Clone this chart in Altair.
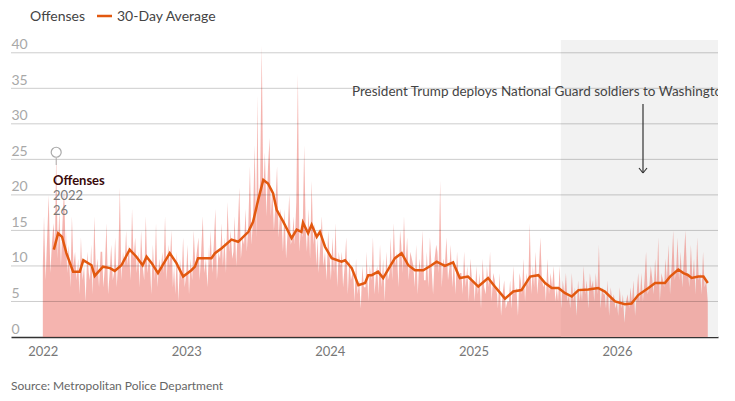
import altair as alt
import pandas as pd

# ---------------- data ----------------
months = [
    "2022-01", "2022-02", "2022-03", "2022-04", "2022-05", "2022-06",
    "2022-07", "2022-08", "2022-09", "2022-10", "2022-11", "2022-12",
    "2023-01", "2023-02", "2023-03", "2023-04", "2023-05", "2023-06",
    "2023-07", "2023-08", "2023-09", "2023-10", "2023-11", "2023-12",
    "2024-01", "2024-02", "2024-03", "2024-04", "2024-05", "2024-06",
    "2024-07", "2024-08", "2024-09", "2024-10", "2024-11", "2024-12",
    "2025-01", "2025-02", "2025-03", "2025-04", "2025-05", "2025-06",
    "2025-07", "2025-08", "2025-09", "2025-10", "2025-11", "2025-12",
    "2026-01", "2026-02", "2026-03", "2026-04", "2026-05", "2026-06",
    "2026-07", "2026-08",
]
sample_days = [1, 4, 8, 12, 16, 20, 24, 28]

# daily offenses (sampled), one list per month
offenses = [
    [10, 17, 8, 14, 20, 9, 13, 16],
    [13, 26, 11, 18, 10, 16, 21, 12],
    [15, 9, 13, 7, 17, 10, 12, 8],
    [11, 6, 14, 8, 10, 5, 12, 9],
    [8, 13, 6, 17, 9, 11, 7, 12],
    [12, 7, 10, 16, 6, 9, 13, 8],
    [9, 14, 7, 11, 21, 8, 12, 10],
    [15, 10, 13, 8, 18, 11, 14, 9],
    [12, 7, 15, 10, 8, 17, 9, 11],
    [10, 6, 13, 8, 16, 7, 11, 9],
    [12, 9, 17, 8, 13, 10, 15, 7],
    [10, 6, 12, 5, 11, 8, 14, 7],
    [9, 13, 6, 11, 8, 15, 10, 12],
    [14, 8, 12, 17, 9, 11, 7, 13],
    [10, 15, 9, 13, 18, 8, 12, 11],
    [16, 10, 14, 9, 19, 12, 15, 11],
    [12, 17, 10, 15, 21, 11, 14, 13],
    [18, 12, 16, 24, 13, 17, 27, 14],
    [34, 18, 22, 41, 20, 26, 17, 24],
    [28, 17, 21, 15, 19, 24, 14, 18],
    [16, 12, 18, 11, 15, 20, 13, 14],
    [17, 13, 19, 37, 12, 16, 14, 27],
    [15, 12, 18, 11, 22, 13, 16, 10],
    [14, 9, 13, 17, 10, 12, 8, 15],
    [11, 8, 14, 9, 16, 7, 12, 10],
    [12, 7, 10, 14, 6, 11, 8, 9],
    [9, 5, 11, 6, 8, 4, 10, 7],
    [7, 12, 5, 10, 8, 14, 6, 9],
    [10, 6, 13, 7, 11, 5, 12, 8],
    [9, 14, 8, 16, 10, 12, 7, 15],
    [13, 9, 17, 10, 14, 8, 12, 11],
    [10, 7, 13, 6, 11, 9, 15, 8],
    [8, 12, 7, 14, 10, 6, 11, 13],
    [12, 9, 22, 7, 11, 10, 14, 8],
    [10, 13, 7, 11, 6, 12, 8, 9],
    [9, 6, 12, 7, 10, 5, 11, 8],
    [8, 5, 10, 6, 9, 4, 11, 7],
    [6, 10, 7, 12, 5, 9, 8, 6],
    [7, 4, 9, 3, 6, 8, 4, 5],
    [5, 8, 4, 10, 6, 7, 3, 9],
    [8, 6, 11, 5, 9, 7, 16, 6],
    [10, 7, 12, 6, 9, 14, 8, 7],
    [8, 5, 11, 6, 9, 7, 10, 5],
    [7, 5, 10, 4, 8, 6, 9, 5],
    [6, 4, 9, 5, 7, 3, 8, 5],
    [7, 5, 10, 6, 8, 4, 9, 7],
    [8, 5, 9, 6, 13, 4, 7, 6],
    [6, 4, 8, 3, 7, 5, 6, 4],
    [5, 3, 7, 4, 6, 2, 5, 6],
    [4, 7, 5, 8, 3, 6, 9, 5],
    [6, 9, 5, 8, 12, 6, 7, 10],
    [8, 6, 11, 7, 14, 5, 9, 8],
    [7, 11, 8, 13, 6, 10, 15, 8],
    [10, 14, 8, 12, 7, 11, 15, 9],
    [9, 7, 13, 8, 11, 6, 14, 8],
    [9, 6, 12, 7, 8, 5],
]

avg_dates = [
    "2022-01-29", "2022-02-09", "2022-02-19", "2022-03-02", "2022-03-19",
    "2022-04-05", "2022-04-14", "2022-05-05", "2022-05-13", "2022-06-03",
    "2022-06-21", "2022-07-03", "2022-07-20", "2022-08-10", "2022-08-27",
    "2022-09-12", "2022-09-22", "2022-10-05", "2022-10-21", "2022-11-20",
    "2022-12-07", "2022-12-24", "2023-01-14", "2023-01-23", "2023-01-31",
    "2023-02-09", "2023-03-06", "2023-03-15", "2023-04-01", "2023-04-26",
    "2023-05-13", "2023-06-08", "2023-06-20", "2023-07-03", "2023-07-16",
    "2023-07-28", "2023-08-10", "2023-08-19", "2023-09-05", "2023-09-26",
    "2023-10-09", "2023-10-21", "2023-10-25", "2023-11-07", "2023-11-16",
    "2023-11-29", "2023-12-07", "2023-12-20", "2024-01-06", "2024-01-31",
    "2024-02-09", "2024-02-26", "2024-03-14", "2024-03-31", "2024-04-08",
    "2024-04-17", "2024-05-03", "2024-05-16", "2024-06-02", "2024-06-15",
    "2024-07-02", "2024-07-19", "2024-08-05", "2024-08-26", "2024-09-16",
    "2024-09-29", "2024-10-20", "2024-11-10", "2024-11-27", "2024-12-18",
    "2025-01-13", "2025-02-07", "2025-02-24", "2025-03-22", "2025-04-12",
    "2025-05-03", "2025-05-25", "2025-06-15", "2025-07-02", "2025-07-19",
    "2025-08-05", "2025-08-21", "2025-09-08", "2025-09-25", "2025-10-20",
    "2025-11-14", "2025-12-01", "2025-12-27", "2026-01-21", "2026-02-07",
    "2026-02-24", "2026-03-22", "2026-04-08", "2026-05-03", "2026-05-16",
    "2026-06-06", "2026-06-19", "2026-07-01", "2026-07-10", "2026-07-27",
    "2026-08-09", "2026-08-20",
]
avg_values = [
    12.3, 14.6, 14.1, 11.8, 9.2,
    9.2, 10.8, 10.1, 8.6, 9.9,
    9.7, 9.3, 10.1, 12.3, 11.3,
    10.1, 11.3, 10.4, 9.0, 11.8,
    10.4, 8.5, 9.4, 9.9, 11.1,
    11.1, 11.1, 11.8, 12.5, 13.7,
    13.4, 14.8, 16.2, 19.3, 22.1,
    21.6, 20.2, 17.9, 16.2, 13.9,
    15.1, 14.8, 16.1, 14.6, 15.8,
    14.1, 14.8, 12.7, 11.1, 10.6,
    10.8, 9.7, 7.3, 7.6, 8.7,
    8.7, 9.2, 8.3, 9.9, 11.1,
    11.8, 10.1, 9.4, 9.4, 10.1,
    10.6, 10.0, 10.5, 8.3, 8.5,
    7.1, 8.3, 7.1, 5.4, 6.4,
    6.6, 8.5, 8.7, 7.6, 6.9,
    6.9, 6.2, 5.7, 6.6, 6.7,
    6.9, 6.4, 5.0, 4.6, 4.7,
    5.9, 6.9, 7.6, 7.6, 8.5,
    9.5, 9.0, 8.7, 8.3, 8.5,
    8.5, 7.6,
]

grid_values = [5, 10, 15, 20, 25, 30, 35, 40]
y_tick_values = [0, 5, 10, 15, 20, 25, 30, 35, 40]

shade_start = "2025-08-11"
shade_end = "2026-09-15"
domain_start = "2021-10-12"
domain_end = "2026-09-15"

highlight_date = "2022-02-04"
highlight_value = 26

annotation_text = "President Trump deploys National Guard soldiers to Washington"
source_text = "Source: Metropolitan Police Department"

# ---------------- tables ----------------
rows = []
for m, vals in zip(months, offenses):
    for d, v in zip(sample_days, vals):
        rows.append({"date": f"{m}-{d:02d}", "offenses": v})
daily = pd.DataFrame(rows)
avg = pd.DataFrame({"date": avg_dates, "avg": avg_values})
grid = pd.DataFrame({"g": grid_values})
shade = pd.DataFrame({"start": [shade_start], "end": [shade_end]})
hl = pd.DataFrame({"date": [highlight_date], "v": [highlight_value]})
one = pd.DataFrame({"k": [0]})

W, H = 707, 297
FONT = "Lato"

x_scale = alt.Scale(domain=[domain_start, domain_end])
y_scale = alt.Scale(domain=[0, 41.8], nice=False, zero=True)
x_axis = alt.Axis(
    format="%Y", tickCount={"interval": "year", "step": 1}, title=None,
    ticks=False, grid=False, domainColor="#333333", domainWidth=1.5,
    labelColor="#777777", labelFontSize=13, labelPadding=8, labelFont=FONT,
)
y_axis = alt.Axis(
    values=y_tick_values, title=None, ticks=False, tickSize=0, domain=False,
    grid=False, labelAlign="left", labelBaseline="alphabetic", labelPadding=0,
    labelOffset=-4, labelColor="#a8a8a8", labelFontSize=14, labelFont=FONT,
)

shade_layer = alt.Chart(shade).mark_rect(color="#f2f2f2").encode(
    x=alt.X("start:T", scale=x_scale, axis=x_axis),
    x2="end:T",
    y=alt.value(0),
    y2=alt.value(H),
)

area_layer = alt.Chart(daily).mark_area(
    color="#ed776d", opacity=0.55, interpolate="linear"
).encode(
    x=alt.X("date:T", scale=x_scale, axis=x_axis),
    y=alt.Y("offenses:Q", scale=y_scale, axis=y_axis),
)

grid_layer = alt.Chart(grid).mark_rule(
    color="#000000", opacity=0.2, strokeWidth=1
).encode(y=alt.Y("g:Q", scale=y_scale, axis=y_axis))

line_layer = alt.Chart(avg).mark_line(
    color="#e2580f", strokeWidth=2.5, interpolate="linear"
).encode(
    x=alt.X("date:T", scale=x_scale, axis=x_axis),
    y=alt.Y("avg:Q", scale=y_scale, axis=y_axis),
)

hl_point = alt.Chart(hl).mark_point(
    shape="circle", size=100, filled=True, fill="white",
    stroke="#aaaaaa", strokeWidth=1.2, opacity=1
).encode(
    x=alt.X("date:T", scale=x_scale, axis=x_axis),
    y=alt.Y("v:Q", scale=y_scale, axis=y_axis),
)
hl_stem = alt.Chart(hl).mark_rule(color="#aaaaaa", strokeWidth=1).encode(
    x=alt.X("date:T", scale=x_scale, axis=x_axis),
    y=alt.value(118), y2=alt.value(125),
)
hl_title = alt.Chart(one).mark_text(
    text="Offenses", align="left", baseline="middle", font=FONT,
    fontSize=13, fontWeight="bold", color="#3a0a0a"
).encode(x=alt.value(42), y=alt.value(141))
hl_year = alt.Chart(one).mark_text(
    text="2022", align="left", baseline="middle", font=FONT,
    fontSize=13, color="#7a7a7a"
).encode(x=alt.value(42), y=alt.value(156))
hl_val = alt.Chart(one).mark_text(
    text="26", align="left", baseline="middle", font=FONT,
    fontSize=13, color="#7a7a7a"
).encode(x=alt.value(42), y=alt.value(171))

note_text = alt.Chart(one).mark_text(
    text=annotation_text, align="left", baseline="middle", font=FONT,
    fontSize=13.5, color="#444444", clip=True
).encode(x=alt.value(341), y=alt.value(52))
arrow_shaft = alt.Chart(one).mark_rule(color="#333333", strokeWidth=1.2).encode(
    x=alt.value(632), y=alt.value(64), y2=alt.value(133)
)
arrow_left = alt.Chart(one).mark_rule(color="#333333", strokeWidth=1.2).encode(
    x=alt.value(628), x2=alt.value(632), y=alt.value(128), y2=alt.value(133)
)
arrow_right = alt.Chart(one).mark_rule(color="#333333", strokeWidth=1.2).encode(
    x=alt.value(636), x2=alt.value(632), y=alt.value(128), y2=alt.value(133)
)

leg_off = alt.Chart(one).mark_text(
    text="Offenses", align="left", baseline="middle", font=FONT,
    fontSize=14, color="#444444"
).encode(x=alt.value(19), y=alt.value(-23))
leg_line = alt.Chart(one).mark_rule(color="#e2580f", strokeWidth=2.5).encode(
    x=alt.value(86), x2=alt.value(101), y=alt.value(-24)
)
leg_avg = alt.Chart(one).mark_text(
    text="30-Day Average", align="left", baseline="middle", font=FONT,
    fontSize=14, color="#444444"
).encode(x=alt.value(106), y=alt.value(-23))

source = alt.Chart(one).mark_text(
    text=source_text, align="left", baseline="middle", font=FONT,
    fontSize=12, color="#666666"
).encode(x=alt.value(0), y=alt.value(346))

chart = alt.layer(
    shade_layer, area_layer, grid_layer, line_layer,
    hl_stem, hl_point, hl_title, hl_year, hl_val,
    note_text, arrow_shaft, arrow_left, arrow_right,
    leg_off, leg_line, leg_avg, source,
).properties(
    width=W, height=H,
    autosize=alt.AutoSizeParams(type="none"),
    padding={"left": 3, "top": 32, "right": 9, "bottom": 56},
    background="white",
).configure_view(stroke=None)

chart.save("out.html", embed_options={"renderer": "svg", "actions": False})
